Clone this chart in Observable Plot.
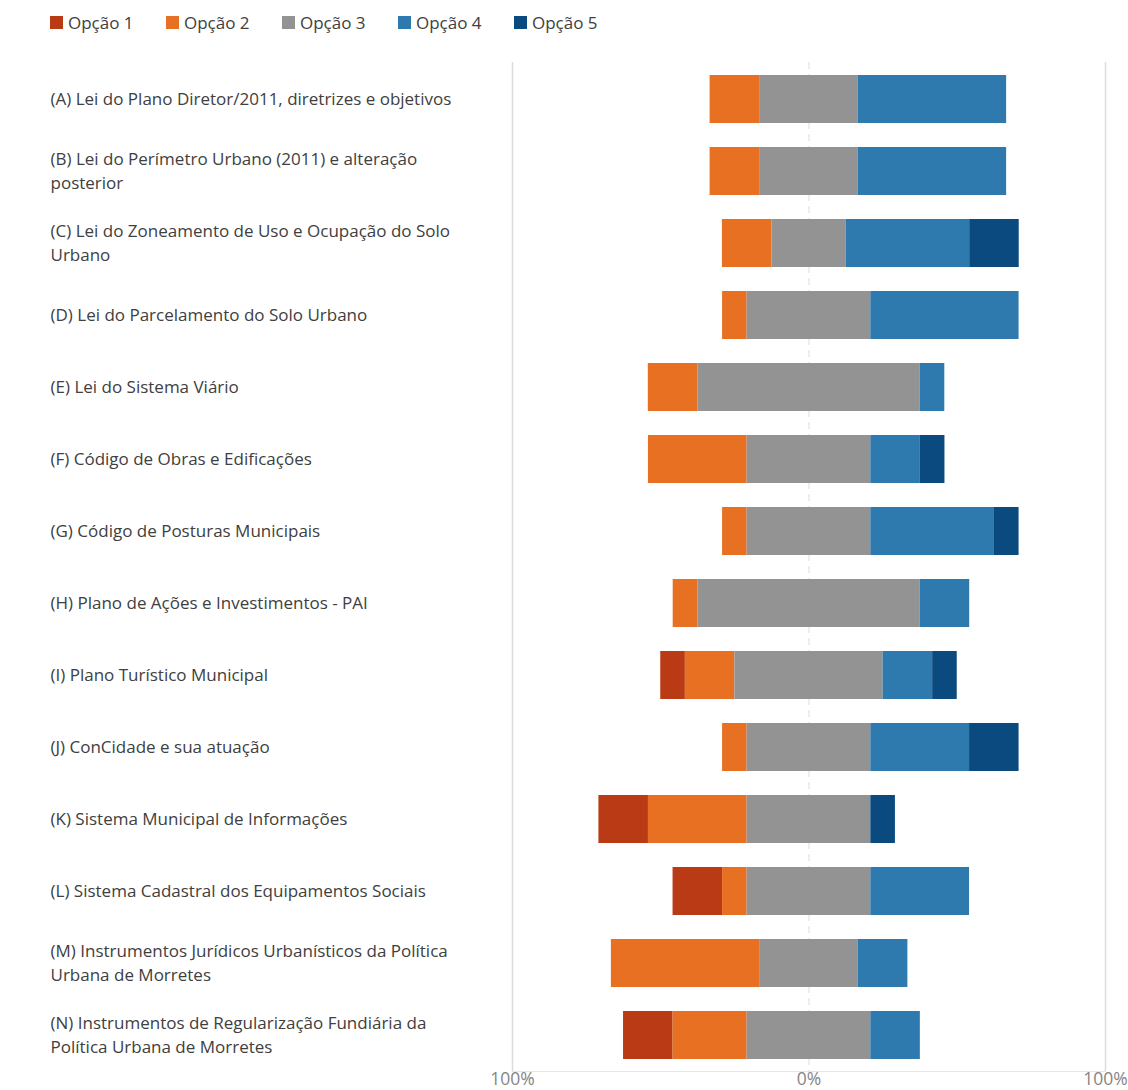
<!DOCTYPE html>
<html>
<head>
<meta charset="utf-8">
<script src="https://cdn.jsdelivr.net/npm/d3@7"></script>
<script src="https://cdn.jsdelivr.net/npm/@observablehq/plot@0.6"></script>
<style>
  body { margin: 0; background: #fff; font-family: "Open Sans", sans-serif; }
  #legend { height: 45px; display: flex; align-items: center; padding-left: 50px; font-size: 17px; color: #404040; }
  .item { display: flex; align-items: center; width: 116px; }
  .sw { width: 13px; height: 13px; margin-right: 5px; }
</style>
</head>
<body>
<div id="legend"></div>
<div id="chart"></div>
<script>
// Categories (labels with their line breaks as shown)
const categories = [
  "(A) Lei do Plano Diretor/2011, diretrizes e objetivos",
  "(B) Lei do Perímetro Urbano (2011) e alteração\nposterior",
  "(C) Lei do Zoneamento de Uso e Ocupação do Solo\nUrbano",
  "(D) Lei do Parcelamento do Solo Urbano",
  "(E) Lei do Sistema Viário",
  "(F) Código de Obras e Edificações",
  "(G) Código de Posturas Municipais",
  "(H) Plano de Ações e Investimentos - PAI",
  "(I) Plano Turístico Municipal",
  "(J) ConCidade e sua atuação",
  "(K) Sistema Municipal de Informações",
  "(L) Sistema Cadastral dos Equipamentos Sociais",
  "(M) Instrumentos Jurídicos Urbanísticos da Política\nUrbana de Morretes",
  "(N) Instrumentos de Regularização Fundiária da\nPolítica Urbana de Morretes"
];
const options = ["Opção 1", "Opção 2", "Opção 3", "Opção 4", "Opção 5"];
const colors  = ["#b93a14", "#e87022", "#939393", "#2e79ae", "#0b4a7e"];

// Shares (%) per option, in category order
const opcao1 = [0, 0, 0, 0, 0, 0, 0, 0, 8.3, 0, 16.7, 16.7, 0, 16.7];
const opcao2 = [16.7, 16.7, 16.7, 8.3, 16.7, 33.3, 8.3, 8.3, 16.7, 8.3, 33.3, 8.3, 50, 25];
const opcao3 = [33.3, 33.3, 25, 41.7, 75, 41.7, 41.7, 75, 50, 41.7, 41.7, 41.7, 33.3, 41.7];
const opcao4 = [50, 50, 41.7, 50, 8.3, 16.7, 41.7, 16.7, 16.7, 33.3, 0, 33.3, 16.7, 16.7];
const opcao5 = [0, 0, 16.7, 0, 0, 8.3, 8.3, 0, 8.3, 16.7, 8.3, 0, 0, 0];

const xTicks = [-100, 0, 100];
const xTickLabels = ["100%", "0%", "100%"];

// Build diverging stacked segments (neutral option centred on 0)
const series = [opcao1, opcao2, opcao3, opcao4, opcao5];
const segments = [];
categories.forEach((c, i) => {
  let x = -(opcao1[i] + opcao2[i] + opcao3[i] / 2);
  series.forEach((s, k) => {
    const v = s[i];
    if (v > 0) segments.push({category: c, option: options[k], x1: x, x2: x + v});
    x += v;
  });
});

// Legend
const legend = document.getElementById("legend");
options.forEach((o, k) => {
  const it = document.createElement("div");
  it.className = "item";
  it.innerHTML = `<span class="sw" style="background:${colors[k]}"></span><span>${o}</span>`;
  legend.appendChild(it);
});

const chart = Plot.plot({
  width: 1128,
  height: 1045,
  marginLeft: 512,
  marginRight: 23,
  marginTop: 17,
  marginBottom: 19,
  style: {fontFamily: "Open Sans, sans-serif", background: "#fff"},
  x: {domain: [-100, 100], axis: null},
  y: {domain: categories, axis: null, paddingInner: 1/3, paddingOuter: 1/6},
  color: {domain: options, range: colors},
  marks: [
    Plot.ruleX([-100, 100], {stroke: "#dcdcdc", strokeWidth: 1.5}),
    Plot.ruleX([0], {stroke: "#dcdcdc", strokeWidth: 1, strokeDasharray: "7,5"}),
    Plot.frame({anchor: "bottom", stroke: "#e6e6e6"}),
    Plot.barX(segments, {x1: "x1", x2: "x2", y: "category", fill: "option"}),
    Plot.text(categories, {
      y: d => d, text: d => d, frameAnchor: "left", textAnchor: "start",
      dx: -462, dy: -2, fontSize: 17, fill: "#404040", lineHeight: 1.42
    }),
    Plot.text(xTicks, {
      x: d => d, text: (d, i) => xTickLabels[i], frameAnchor: "bottom",
      lineAnchor: "top", dy: 1, fontSize: 17.5, fill: "#858585"
    })
  ]
});
document.getElementById("chart").appendChild(chart);
</script>
</body>
</html>
